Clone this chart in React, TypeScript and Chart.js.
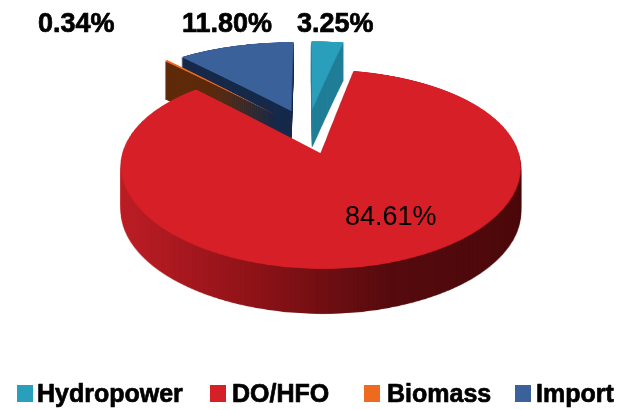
import React, { useEffect, useRef } from "react";
import { Chart, registerables } from "chart.js";

Chart.register(...registerables);

const categories = ["Hydropower", "DO/HFO", "Biomass", "Import"];
const shares = [3.25, 84.61, 0.34, 11.8];
const faceColors = ["#2A9FBC", "#D71F28", "#EE6A1F", "#3A6199"];
const sideStops = [
  ["#1F7C96", "#227F99"],
  ["#BE1E26", "#8E1318", "#560B0E", "#4C090B"],
  ["#5E2A0A", "#5E2A0A"],
  ["#16294A", "#16294A"],
];
const sliceDepths = [38, 45, 38, 29];
const drawOrder = [3, 2, 0, 1];
const valueLabelX = [297, 345, 38, 182];
const valueLabelY = [32, 225, 32, 32];
const valueLabelBold = [true, false, true, true];
const legendBoxX = [17, 210, 364, 515];
const legendTextX = [37, 232, 387, 536];

const EXPLODE = 48;
const SRC = 900;
const ORIGIN = SRC / 2;
const PX = 307.5;
const A0 = 131;
const A1 = 0.4615;
const A2 = 0.0004;

const canvasOf = (w: number, h: number) => {
  const c = document.createElement("canvas");
  c.width = w;
  c.height = h;
  return c;
};

const pie3d = {
  id: "pie3d",
  beforeDatasetsDraw(chart: any) {
    const ctx = chart.ctx;
    const W = chart.width;
    const H = chart.height;
    const arcs = chart.getDatasetMeta(0).data;
    for (const i of drawOrder) {
      const arc = arcs[i];
      const mid = (arc.startAngle + arc.endAngle) / 2;
      const src = canvasOf(SRC, SRC);
      const s = src.getContext("2d")!;
      s.translate(
        ORIGIN - arc.x + Math.cos(mid) * EXPLODE,
        ORIGIN - arc.y + Math.sin(mid) * EXPLODE,
      );
      arc.draw(s);

      const face = canvasOf(W, H);
      const f = face.getContext("2d")!;
      for (let row = 0; row < H; row++) {
        const disc = A1 * A1 - 4 * A2 * (A0 - row);
        if (disc < 0) continue;
        const y = (-A1 + Math.sqrt(disc)) / (2 * A2);
        const slope = A1 + 2 * A2 * y;
        const sy = y + ORIGIN;
        const sh = 1 / slope;
        if (sy < 0 || sy + sh > SRC) continue;
        const scale = 0.96 + 0.00068 * y;
        f.drawImage(src, 0, sy, SRC, sh, PX - scale * ORIGIN, row, scale * SRC, 1);
      }

      const side = canvasOf(W, H);
      const t = side.getContext("2d")!;
      t.drawImage(face, 0, 0);
      t.globalCompositeOperation = "source-in";
      const grad = t.createLinearGradient(120, 0, 522, 0);
      sideStops[i].forEach((c, k) => grad.addColorStop(k / (sideStops[i].length - 1), c));
      t.fillStyle = grad;
      t.fillRect(0, 0, W, H);

      for (let d = sliceDepths[i]; d >= 1; d--) ctx.drawImage(side, 0, d);
      ctx.drawImage(face, 0, 0);
    }
    return false;
  },
};

const textLayer = {
  id: "textLayer",
  afterDraw(chart: any) {
    const ctx = chart.ctx;
    ctx.save();
    ctx.fillStyle = "#000";
    ctx.strokeStyle = "#000";
    ctx.lineWidth = 0.7;
    ctx.lineJoin = "round";
    ctx.textBaseline = "alphabetic";
    ctx.textAlign = "left";
    shares.forEach((v, i) => {
      ctx.font = `${valueLabelBold[i] ? "bold " : ""}27px "Liberation Sans"`;
      const text = `${v.toFixed(2)}%`;
      ctx.fillText(text, valueLabelX[i], valueLabelY[i]);
      if (valueLabelBold[i]) ctx.strokeText(text, valueLabelX[i], valueLabelY[i]);
    });
    categories.forEach((name, i) => {
      ctx.fillStyle = faceColors[i];
      ctx.fillRect(legendBoxX[i], 385, 16, 17);
      ctx.fillStyle = "#000";
      ctx.font = 'bold 25px "Liberation Sans"';
      ctx.fillText(name, legendTextX[i], 402);
      ctx.strokeText(name, legendTextX[i], 402);
    });
    ctx.restore();
  },
};

export default function App() {
  const ref = useRef<HTMLCanvasElement | null>(null);
  useEffect(() => {
    document.body.style.margin = "0";
    document.body.style.background = "#fff";
    const chart = new Chart(ref.current!, {
      type: "pie",
      data: {
        labels: categories,
        datasets: [{ data: shares, backgroundColor: faceColors, borderWidth: 0 }],
      },
      options: {
        responsive: false,
        animation: false,
        radius: 200,
        plugins: { legend: { display: false }, tooltip: { enabled: false } },
      },
      plugins: [pie3d, textLayer],
    } as any);
    return () => chart.destroy();
  }, []);
  return <canvas ref={ref} width={622} height={410} style={{ display: "block" }} />;
}
